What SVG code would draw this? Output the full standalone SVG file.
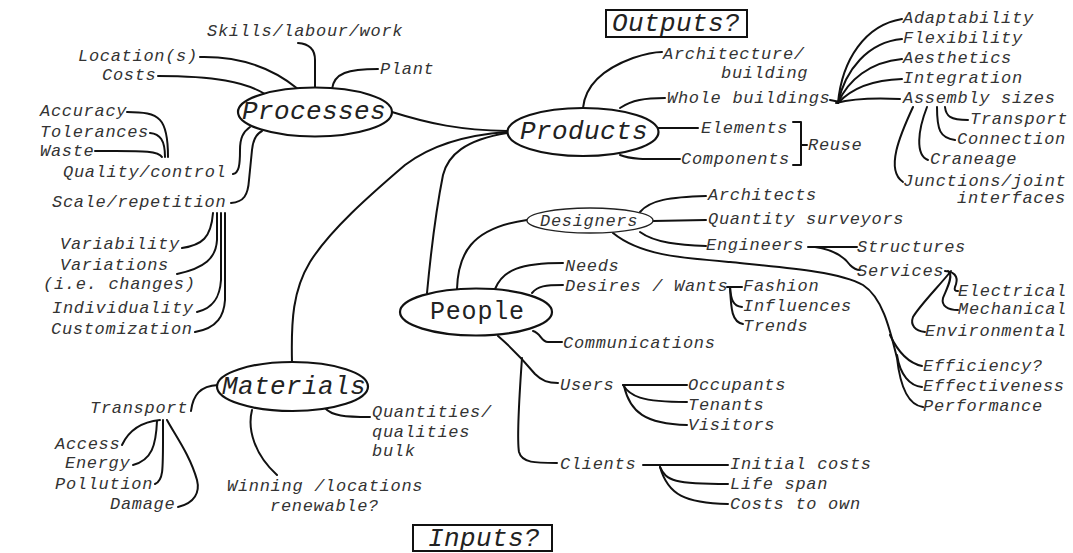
<svg xmlns="http://www.w3.org/2000/svg" width="1073" height="553" viewBox="0 0 1073 553">
  <style>
    .t { font-family: "Liberation Mono", "Courier New", monospace; font-style: italic; font-size: 17px; letter-spacing: 0.7px; fill: #333; }
    .big { font-family: "Liberation Mono", "Courier New", monospace; font-style: italic; font-size: 26px; letter-spacing: 0.4px; fill: #222; }
    .up { font-family: "Liberation Mono", "Courier New", monospace; font-size: 25px; letter-spacing: 0.8px; fill: #222; }
    .hub { fill: #fff; stroke: #111; stroke-width: 2.2; }
    .hub-thin { fill: #fff; stroke: #222; stroke-width: 1.4; }
    .box { fill: #fff; stroke: #111; stroke-width: 2; }
    .links path { fill: none; stroke: #111; stroke-width: 2; stroke-linecap: round; stroke-linejoin: round; }
  </style>
  <rect width="1073" height="553" fill="#fff"/>

  <!-- connectors -->
  <g id="connectors" class="links">
    <!-- Processes branches -->
    <path d="M200,57 C245,56 275,70 298,89"/>
    <path d="M158,76 C215,76 245,82 265,94"/>
    <path d="M298,43 C312,44 315,52 315,60 L315,88"/>
    <path d="M378,69 C348,69 334,73 332,89"/>
    <path d="M127,112 C160,112 168,118 168,157"/>
    <path d="M150,133 C160,134 165,140 165,157"/>
    <path d="M95,151 C140,151 158,150 162,157"/>
    <path d="M233,174 C239,173 240,165 240,150 C240,138 243,132 250,127"/>
    <path d="M231,203 C244,202 248,195 249,180 L252,150 C253,140 256,134 262,131"/>
    <path d="M182,248 C202,245 211,238 213,213"/>
    <path d="M177,274 C205,268 216,258 217,240 L217,213"/>
    <path d="M197,312 C215,308 220,295 221,280 L221,213"/>
    <path d="M195,332 C218,328 224,315 225,300 L225,213"/>
    <path d="M392,112 C430,124 460,130 507,131"/>

    <!-- Materials branches -->
    <path d="M292,362 C291,320 293,290 310,262 C330,230 370,195 405,165 C430,146 465,135 507,132"/>
    <path d="M191,411 C193,395 200,386 218,385"/>
    <path d="M325,408 C332,416 345,417 370,417"/>
    <path d="M252,410 C247,430 255,455 277,475"/>
    <path d="M122,445 C128,432 140,422 160,420"/>
    <path d="M133,465 C152,460 156,445 157,421"/>
    <path d="M155,484 C164,480 163,470 163,420"/>
    <path d="M178,507 C195,503 200,492 197,480 C190,455 175,435 167,420"/>

    <!-- Products branches -->
    <path d="M427,293 C432,240 438,200 443,175 C448,155 465,140 507,133"/>
    <path d="M583,108 C585,88 600,70 633,58 C645,54 655,52 662,52"/>
    <path d="M620,108 C632,100 645,98 665,98"/>
    <path d="M658,128 L698,128"/>
    <path d="M620,155 C632,160 650,159 680,159"/>
    <path d="M793,122 L801,122 L801,165 L793,165 M801,145 L807,145"/>
    <path d="M830,100 L840,102"/>
    <path d="M838,103 C842,60 865,25 902,19"/>
    <path d="M838,103 C845,70 868,42 902,39"/>
    <path d="M838,103 C848,80 870,62 902,59"/>
    <path d="M838,103 C850,90 870,80 902,79"/>
    <path d="M836,103 C855,98 880,98 900,99"/>
    <path d="M945,107 C946,116 950,120 968,120"/>
    <path d="M937,107 C937,130 940,138 955,140"/>
    <path d="M927,107 C918,130 915,155 928,160"/>
    <path d="M913,107 C900,135 885,170 903,182"/>

    <!-- People branches -->
    <path d="M457,289 C458,255 470,228 527,220"/>
    <path d="M495,289 C503,270 520,263 563,263"/>
    <path d="M532,293 C538,286 545,285 563,285"/>
    <path d="M533,331 C541,333 541,342 548,342 L562,342"/>
    <path d="M498,336 C512,348 525,362 535,374 C542,381 548,383 558,383"/>
    <path d="M522,358 C519,400 517,440 519,452 C522,463 535,463 557,463"/>
    <path d="M640,212 C650,200 670,197 706,196"/>
    <path d="M653,221 L706,220"/>
    <path d="M640,232 C655,243 680,245 706,246"/>
    <path d="M613,233 C640,255 680,258 730,262 C790,268 840,272 863,285 C883,298 890,330 897,358 C900,385 908,405 923,407"/>
    <path d="M897,355 C900,375 910,386 922,387"/>
    <path d="M890,335 C898,352 908,363 922,366"/>
    <path d="M808,247 L857,247"/>
    <path d="M815,247 C835,250 845,258 850,265 C853,268 856,270 860,270"/>
    <path d="M945,271 C958,272 958,280 955,287 C954,290 955,291 958,291"/>
    <path d="M948,271 C955,275 945,292 943,298 C941,306 948,310 958,310"/>
    <path d="M951,271 C940,285 920,305 913,317 C910,325 915,331 925,332"/>
    <path d="M727,287 L742,287"/>
    <path d="M730,287 C731,300 733,306 742,307"/>
    <path d="M730,287 C731,310 732,322 743,324"/>
    <path d="M623,385 L687,385"/>
    <path d="M623,385 C630,396 640,402 687,402"/>
    <path d="M624,386 C630,412 645,424 687,425"/>
    <path d="M643,465 L728,465"/>
    <path d="M660,467 C666,481 675,484 728,484"/>
    <path d="M660,467 C668,495 685,503 728,504"/>
  </g>

  <!-- hub nodes -->
  <g id="processes">
    <ellipse class="hub" cx="315" cy="112" rx="77" ry="24.5"/>
    <text class="big" x="242" y="119">Processes</text>
  </g>
  <g id="products">
    <ellipse class="hub" cx="583" cy="132" rx="75.5" ry="24"/>
    <text class="big" x="520" y="139">Products</text>
  </g>
  <g id="materials">
    <ellipse class="hub" cx="292.5" cy="386.5" rx="75.5" ry="24.5"/>
    <text class="big" x="222" y="394">Materials</text>
  </g>
  <g id="people">
    <ellipse class="hub" cx="476" cy="312" rx="76" ry="23.5"/>
    <text class="up" x="430" y="319">People</text>
  </g>
  <g id="designers">
    <ellipse class="hub-thin" cx="590" cy="220.5" rx="63" ry="12.5"/>
    <text class="t" x="540" y="226">Designers</text>
  </g>

  <!-- framed headings -->
  <g id="outputs">
    <rect class="box" x="606" y="10" width="141" height="27"/>
    <text class="big" x="612" y="31">Outputs?</text>
  </g>
  <g id="inputs">
    <rect class="box" x="413" y="525" width="139" height="26"/>
    <text class="big" x="428" y="546">Inputs?</text>
  </g>

  <!-- Processes leaves -->
  <g id="skills"><text class="t" x="207" y="36">Skills/labour/work</text></g>
  <g id="locations"><text class="t" x="78" y="61">Location(s)</text></g>
  <g id="costs"><text class="t" x="102" y="80">Costs</text></g>
  <g id="plant"><text class="t" x="380" y="74">Plant</text></g>
  <g id="accuracy"><text class="t" x="40" y="116">Accuracy</text></g>
  <g id="tolerances"><text class="t" x="40" y="137">Tolerances</text></g>
  <g id="waste"><text class="t" x="40" y="156">Waste</text></g>
  <g id="quality"><text class="t" x="63" y="177">Quality/control</text></g>
  <g id="scale"><text class="t" x="52" y="207">Scale/repetition</text></g>
  <g id="variability"><text class="t" x="60" y="249">Variability</text></g>
  <g id="variations">
    <text class="t" x="60" y="270">Variations</text>
    <text class="t" x="43" y="289">(i.e. changes)</text>
  </g>
  <g id="individuality"><text class="t" x="52" y="313">Individuality</text></g>
  <g id="customization"><text class="t" x="51" y="334">Customization</text></g>

  <!-- Materials leaves -->
  <g id="transport-in"><text class="t" x="90" y="413">Transport</text></g>
  <g id="access"><text class="t" x="55" y="449">Access</text></g>
  <g id="energy"><text class="t" x="65" y="468">Energy</text></g>
  <g id="pollution"><text class="t" x="55" y="489">Pollution</text></g>
  <g id="damage"><text class="t" x="110" y="509">Damage</text></g>
  <g id="quantities">
    <text class="t" x="372" y="417">Quantities/</text>
    <text class="t" x="372" y="437">qualities</text>
    <text class="t" x="372" y="456">bulk</text>
  </g>
  <g id="winning">
    <text class="t" x="227" y="491">Winning /locations</text>
    <text class="t" x="270" y="511">renewable?</text>
  </g>

  <!-- Products leaves -->
  <g id="architecture">
    <text class="t" x="663" y="59">Architecture/</text>
    <text class="t" x="721" y="78">building</text>
  </g>
  <g id="whole"><text class="t" x="667" y="103">Whole buildings</text></g>
  <g id="elements"><text class="t" x="701" y="133">Elements</text></g>
  <g id="components"><text class="t" x="681" y="164">Components</text></g>
  <g id="reuse"><text class="t" x="808" y="150">Reuse</text></g>
  <g id="adaptability"><text class="t" x="903" y="23">Adaptability</text></g>
  <g id="flexibility"><text class="t" x="903" y="43">Flexibility</text></g>
  <g id="aesthetics"><text class="t" x="903" y="63">Aesthetics</text></g>
  <g id="integration"><text class="t" x="903" y="83">Integration</text></g>
  <g id="assembly"><text class="t" x="903" y="103">Assembly sizes</text></g>
  <g id="transport-out"><text class="t" x="970" y="124">Transport</text></g>
  <g id="connection"><text class="t" x="957" y="144">Connection</text></g>
  <g id="craneage"><text class="t" x="930" y="164">Craneage</text></g>
  <g id="junctions">
    <text class="t" x="903" y="186">Junctions/joint</text>
    <text class="t" x="957" y="203">interfaces</text>
  </g>

  <!-- People leaves -->
  <g id="architects"><text class="t" x="708" y="200">Architects</text></g>
  <g id="qs"><text class="t" x="708" y="224">Quantity surveyors</text></g>
  <g id="engineers"><text class="t" x="706" y="250">Engineers</text></g>
  <g id="structures"><text class="t" x="857" y="252">Structures</text></g>
  <g id="services"><text class="t" x="857" y="276">Services</text></g>
  <g id="electrical"><text class="t" x="958" y="296">Electrical</text></g>
  <g id="mechanical"><text class="t" x="958" y="314">Mechanical</text></g>
  <g id="environmental"><text class="t" x="925" y="336">Environmental</text></g>
  <g id="needs"><text class="t" x="565" y="271">Needs</text></g>
  <g id="desires"><text class="t" x="565" y="291">Desires / Wants</text></g>
  <g id="fashion"><text class="t" x="743" y="291">Fashion</text></g>
  <g id="influences"><text class="t" x="743" y="311">Influences</text></g>
  <g id="trends"><text class="t" x="743" y="331">Trends</text></g>
  <g id="communications"><text class="t" x="563" y="348">Communications</text></g>
  <g id="efficiency"><text class="t" x="923" y="371">Efficiency?</text></g>
  <g id="effectiveness"><text class="t" x="923" y="391">Effectiveness</text></g>
  <g id="performance"><text class="t" x="923" y="411">Performance</text></g>
  <g id="users"><text class="t" x="560" y="390">Users</text></g>
  <g id="occupants"><text class="t" x="688" y="390">Occupants</text></g>
  <g id="tenants"><text class="t" x="688" y="410">Tenants</text></g>
  <g id="visitors"><text class="t" x="688" y="430">Visitors</text></g>
  <g id="clients"><text class="t" x="560" y="469">Clients</text></g>
  <g id="initial"><text class="t" x="730" y="469">Initial costs</text></g>
  <g id="lifespan"><text class="t" x="730" y="489">Life span</text></g>
  <g id="costsown"><text class="t" x="730" y="509">Costs to own</text></g>
</svg>
